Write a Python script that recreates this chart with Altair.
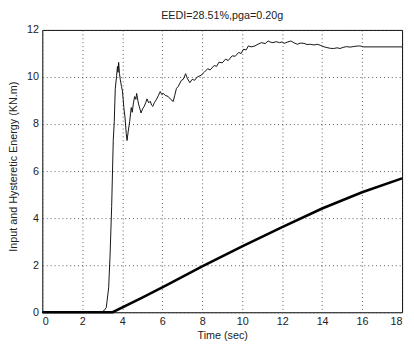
import altair as alt
import pandas as pd

# Input energy (thin line)
input_t = [0, 2.95, 3.1, 3.2, 3.32, 3.39, 3.47, 3.55, 3.6, 3.65, 3.72, 3.76, 3.79, 3.82, 3.86,
           3.9, 3.96, 4.01, 4.08, 4.14, 4.2, 4.24, 4.3, 4.37, 4.45, 4.5, 4.56, 4.62, 4.68,
           4.72, 4.78, 4.83, 4.9, 4.94, 5.02, 5.1, 5.17, 5.24, 5.32, 5.4, 5.47, 5.53, 5.6,
           5.7, 5.8, 5.9, 5.98, 6.06, 6.15, 6.3, 6.42, 6.55, 6.62, 6.71, 6.8, 6.96, 7.05,
           7.17, 7.25, 7.38, 7.5, 7.62, 7.75, 7.94, 8.1, 8.27, 8.4, 8.6, 8.72, 8.84, 9.0,
           9.17, 9.3, 9.5, 9.65, 9.82, 9.95, 10.06, 10.2, 10.31, 10.45, 10.64, 10.8, 10.97,
           11.15, 11.3, 11.42, 11.54, 11.7, 11.87, 12.0, 12.1, 12.25, 12.44, 12.6, 12.76,
           12.9, 13.09, 13.25, 13.42, 13.6, 13.75, 13.9, 13.99, 14.1, 14.24, 14.4, 14.57,
           14.75, 14.9, 15.05, 15.22, 15.4, 15.55, 15.7, 15.88, 16.0, 16.04, 18.0]
input_e = [0, 0, 0.08, 0.2, 1.04, 2.43, 4.5, 7.3, 8.1, 9.5, 10.07, 10.45, 10.2, 10.62, 10.15,
           9.9, 9.6, 9.4, 8.7, 8.26, 7.6, 7.3, 7.7, 8.1, 8.7, 8.5, 8.9, 9.17, 9.05,
           9.3, 9.0, 8.8, 8.6, 8.47, 8.65, 8.75, 8.9, 9.07, 8.9, 8.97, 8.8, 8.75, 8.9,
           9.03, 9.2, 9.38, 9.25, 9.3, 9.22, 9.17, 9.05, 8.96, 9.2, 9.51, 9.6, 9.86, 9.9,
           10.14, 9.95, 9.76, 9.9, 9.86, 10.0, 10.07, 10.2, 10.35, 10.3, 10.49, 10.45, 10.63, 10.6,
           10.76, 10.7, 10.9, 10.88, 11.04, 11.0, 11.18, 11.15, 11.32, 11.28, 11.32, 11.4, 11.46,
           11.42, 11.53, 11.48, 11.46, 11.5, 11.46, 11.49, 11.43, 11.48, 11.53, 11.45, 11.39,
           11.44, 11.43, 11.38, 11.39, 11.36, 11.39, 11.35, 11.32, 11.28, 11.25, 11.22, 11.21,
           11.24, 11.21, 11.26, 11.29, 11.27, 11.29, 11.31, 11.32, 11.3, 11.28, 11.28]

# Hysteretic energy (thick line)
hyst_t = [0, 3.52, 5.0, 6.22, 8.0, 10.0, 12.0, 14.0, 16.0, 18.0]
hyst_e = [0, 0, 0.62, 1.15, 1.95, 2.8, 3.62, 4.41, 5.1, 5.69]

x_ticks = [0, 2, 4, 6, 8, 10, 12, 14, 16, 18]
y_ticks = [0, 2, 4, 6, 8, 10, 12]

df_in = pd.DataFrame({"t": input_t, "e": input_e})
df_hy = pd.DataFrame({"t": hyst_t, "e": hyst_e})

FONT = "Liberation Sans"

x_enc = alt.X("t:Q", scale=alt.Scale(domain=[0, 18], nice=False),
              axis=alt.Axis(values=x_ticks, title="Time (sec)", grid=True, ticks=False,
                            labelPadding=4, titlePadding=3, domain=False))
y_enc = alt.Y("e:Q", scale=alt.Scale(domain=[0, 12], nice=False),
              axis=alt.Axis(values=y_ticks, title="Input and Hysteretic Energy (KN.m)",
                            grid=True, ticks=False, labelPadding=4, domain=False,
                            titleX=-29, titleY=139, titleAlign="center",
                            titleBaseline="middle"))

inp = alt.Chart(df_in).mark_line(color="#111", strokeWidth=1).encode(x=x_enc, y=y_enc)
hy = alt.Chart(df_hy).mark_line(color="#000", strokeWidth=2.6).encode(x="t:Q", y="e:Q")

chart = (inp + hy).properties(
    width=367, height=288,
    background="white",
    title=alt.Title("EEDI=28.51%,pga=0.20g", fontSize=11, fontWeight="normal",
                    font=FONT, color="#222", offset=3),
    autosize=alt.AutoSizeParams(type="none"),
    padding={"left": 35, "top": 19, "right": 4, "bottom": 29},
).configure_view(
    stroke="#000", strokeWidth=1
).configure_axis(
    labelFont=FONT, titleFont=FONT, labelFontSize=11, titleFontSize=11,
    labelColor="#222", titleColor="#222", titleFontWeight="normal",
    gridColor="#444", gridDash=[1, 3], gridWidth=1, gridOpacity=0.9
)

chart.save("out.html", embed_options={"renderer": "svg", "actions": False})
